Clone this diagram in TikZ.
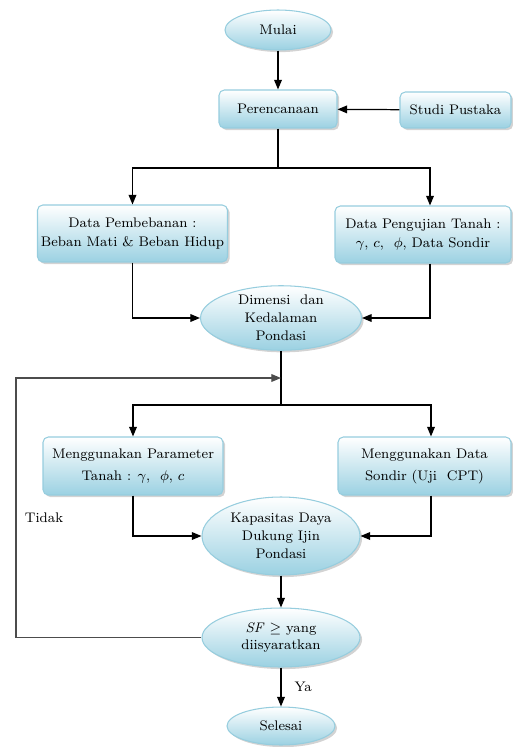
\documentclass[tikz,border=0pt]{standalone}
\usepackage{amsmath}
\usepackage{amssymb}
\usetikzlibrary{arrows.meta,positioning,shapes.geometric,shadows}

\definecolor{birumuda}{RGB}{155,209,226}
\definecolor{tepibiru}{RGB}{150,205,222}

\begin{document}
\begin{tikzpicture}[
    x=0.02cm, y=-0.02cm,
    >={Triangle[length=5.5pt,width=4.4pt]},
    kotak/.style={
        rectangle,
        rounded corners=3pt,
        draw=tepibiru,
        line width=0.6pt,
        top color=white,
        bottom color=birumuda,
        drop shadow={shadow xshift=1.2pt, shadow yshift=-1.2pt, opacity=0.35},
        align=center,
        inner sep=2pt,
        font=\fontsize{7.9}{10.5}\selectfont
    },
    elips/.style={
        ellipse,
        draw=tepibiru,
        line width=0.6pt,
        top color=white,
        bottom color=birumuda,
        drop shadow={shadow xshift=1.2pt, shadow yshift=-1.2pt, opacity=0.35},
        align=center,
        inner sep=0pt,
        font=\fontsize{7.9}{10.2}\selectfont
    },
    panah/.style={
        ->,
        line width=0.7pt
    },
    garis/.style={
        line width=0.7pt
    },
    keterangan/.style={
        fill=white,
        font=\fontsize{7.9}{10.5}\selectfont
    }
]

\useasboundingbox (0,0) rectangle (513,747);

% Start and planning
\node[elips, minimum width=2.12cm, minimum height=0.8cm] (mulai) at (278,30) {Mulai};
\node[kotak, minimum width=2.36cm, minimum height=0.76cm] (renc) at (278,109) {Perencanaan};
\node[kotak, minimum width=2.22cm, minimum height=0.72cm] (studi) at (455.5,110) {Studi Pustaka};

% Input data
\node[kotak, minimum width=3.78cm, minimum height=1.14cm] (beban) at (132.5,233.5)
{Data Pembebanan :\\ Beban Mati \& Beban Hidup};
\node[kotak, minimum width=3.52cm, minimum height=1.14cm] (tanah) at (423,234.5)
{Data Pengujian Tanah :\\ $\gamma$, $c$, \ $\phi$, Data Sondir};

% Foundation dimension
\node[elips, minimum width=3.22cm, minimum height=1.28cm] (dimensi) at (281,318)
{Dimensi \ dan\\ Kedalaman\\ Pondasi};

% Methods
\node[kotak, minimum width=3.6cm, minimum height=1.16cm] (param) at (133,466)
{Menggunakan Parameter\\[2pt] Tanah : $\gamma$, \ $\phi$, $c$};
\node[kotak, minimum width=3.46cm, minimum height=1.16cm] (sondir) at (424.5,466)
{Menggunakan Data\\[2pt] Sondir (Uji \ CPT)};

% Bearing capacity and check
\node[elips, minimum width=3.16cm, minimum height=1.56cm] (kapasitas) at (281,536)
{Kapasitas Daya\\ Dukung Ijin\\ Pondasi};
\node[elips, minimum width=3.16cm, minimum height=1.18cm] (sf) at (281,637.5)
{\textit{SF} $\geq$ yang\\ diisyaratkan};
\node[elips, minimum width=2.16cm, minimum height=0.76cm] (selesai) at (281,726) {Selesai};

% Branch points
\coordinate (cabang1) at (278,168);
\coordinate (balik) at (281,378);
\coordinate (cabang2) at (281,405);
\coordinate (kiri) at (16,378);

% Flow
\draw[panah] (mulai) -- (renc);
\draw[panah] (studi) -- (renc);
\draw[garis] (renc) -- (cabang1);
\draw[panah] (cabang1) -| (beban);
\draw[panah] (cabang1) -| ([xshift=0.14cm]tanah.north);
\draw[panah] (beban.south) |- (dimensi.west);
\draw[panah] ([xshift=0.14cm]tanah.south) |- (dimensi.east);

\draw[garis] (dimensi) -- (cabang2);
\draw[panah] (cabang2) -| (param);
\draw[panah] (cabang2) -| ([xshift=0.13cm]sondir.north);
\draw[panah] (param.south) |- (kapasitas.west);
\draw[panah] ([xshift=0.13cm]sondir.south) |- (kapasitas.east);

\draw[panah] (kapasitas) -- (sf);
\draw[panah] (sf) -- node[keterangan, right, xshift=4pt] {Ya} (selesai);

% Loop back
\draw[panah, black!70] (sf.west) -| (kiri) -- (balik);
\node[keterangan] (tidak) at (44,518) {Tidak};

\end{tikzpicture}
\end{document}
